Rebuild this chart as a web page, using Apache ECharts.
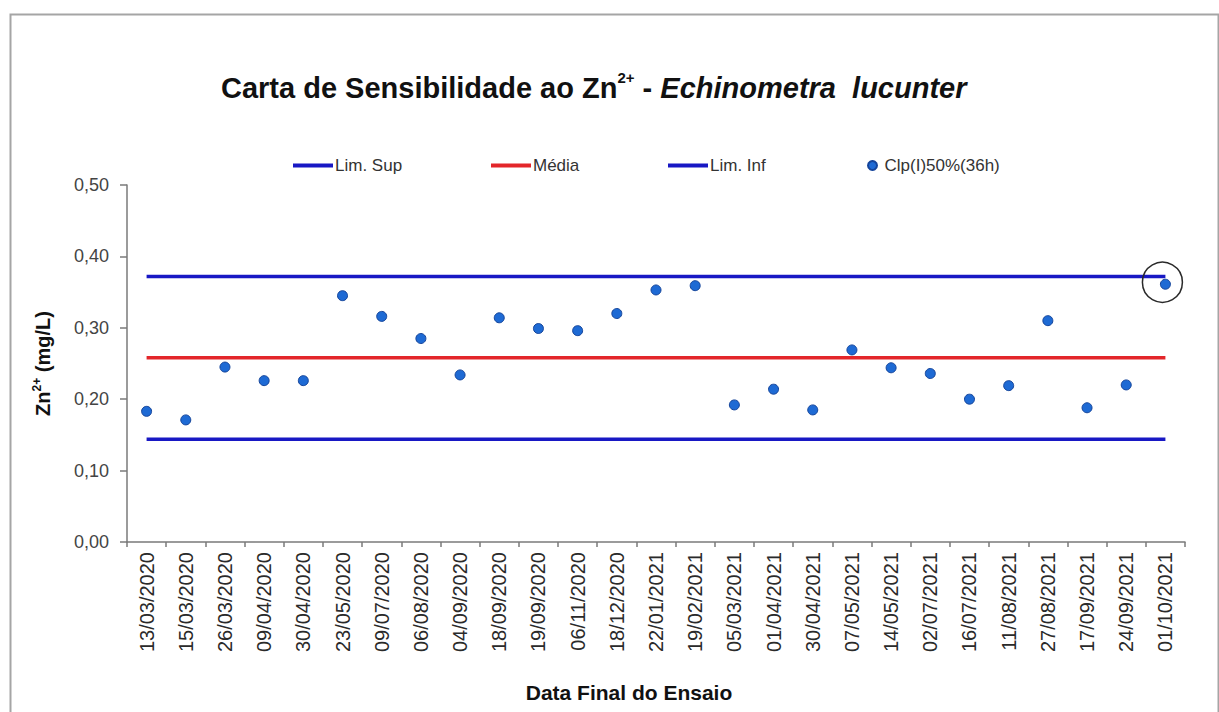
<!DOCTYPE html>
<html>
<head>
    <meta charset="utf-8">
    <title>Carta de Sensibilidade ao Zn</title>
    <script src="https://cdn.jsdelivr.net/npm/echarts@6/dist/echarts.min.js"></script>
    <style>
        html, body { margin: 0; padding: 0; background: #fff; }
        #main { width: 1219px; height: 712px; }
    </style>
</head>
<body>
    <div id="main"></div>
    <script>
        // datas do fim de cada ensaio (eixo x)
        var datas = ['13/03/2020', '15/03/2020', '26/03/2020', '09/04/2020', '30/04/2020', '23/05/2020',
            '09/07/2020', '06/08/2020', '04/09/2020', '18/09/2020', '19/09/2020', '06/11/2020', '18/12/2020',
            '22/01/2021', '19/02/2021', '05/03/2021', '01/04/2021', '30/04/2021', '07/05/2021', '14/05/2021',
            '02/07/2021', '16/07/2021', '11/08/2021', '27/08/2021', '17/09/2021', '24/09/2021', '01/10/2021'];

        // CI(I)50% (36h) em mg/L
        var ci50 = [0.183, 0.171, 0.245, 0.226, 0.226, 0.345, 0.316, 0.285, 0.234, 0.314, 0.299, 0.296, 0.320,
            0.353, 0.359, 0.192, 0.214, 0.185, 0.269, 0.244, 0.236, 0.200, 0.219, 0.310, 0.188, 0.220, 0.361];

        // limites da carta
        var limSup = 0.372;
        var media = 0.258;
        var limInf = 0.144;

        // ticks do eixo y
        var yMin = 0, yMax = 0.5, yStep = 0.1;

        var fonte = 'Liberation Sans';
        var azul = '#1818c4';
        var vermelho = '#e3262a';

        var linhaSup = datas.map(function () { return limSup; });
        var linhaMedia = datas.map(function () { return media; });
        var linhaInf = datas.map(function () { return limInf; });

        var myChart = echarts.init(document.getElementById('main'), null, { renderer: 'svg' });

        // uma legenda por item, para posicionar cada uma
        function legenda(nome, left, w, h, icone) {
            return {
                data: [{ name: nome, icon: icone }],
                left: left,
                top: 152,
                itemWidth: w,
                itemHeight: h,
                itemGap: 0,
                selectedMode: false,
                textStyle: { fontFamily: fonte, fontSize: 17, color: '#333', padding: [0, 0, 0, -3] }
            };
        }

        var option = {
            backgroundColor: '#fff',
            animation: false,
            title: {
                text: '{b|Carta de Sensibilidade ao Zn}{s|2+}{b| - }{i|Echinometra  lucunter}',
                left: 216,
                top: 65,
                textStyle: {
                    rich: {
                        b: { fontFamily: fonte, fontSize: 29, fontWeight: 'bold', color: '#111', lineHeight: 36 },
                        s: { fontFamily: fonte, fontSize: 15, color: '#111', verticalAlign: 'top', lineHeight: 24 },
                        i: { fontFamily: fonte, fontSize: 29, fontStyle: 'italic', color: '#111', lineHeight: 36 }
                    }
                }
            },
            legend: [
                legenda('Lim. Sup', 288, 40, 4, 'rect'),
                legenda('Média', 486, 40, 4, 'rect'),
                legenda('Lim. Inf', 663, 40, 4, 'rect'),
                legenda('Clp(I)50%(36h)', 862, 20, 9, 'circle')
            ],
            grid: {
                left: 127,
                right: 34,
                top: 185,
                bottom: 170,
                containLabel: false,
                outerBoundsMode: 'none'
            },
            xAxis: {
                type: 'category',
                data: datas,
                boundaryGap: true,
                name: 'Data Final do Ensaio',
                nameLocation: 'middle',
                nameGap: 140,
                nameTextStyle: { fontFamily: fonte, fontSize: 21, fontWeight: 'bold', color: '#111', padding: [0, 54, 0, 0] },
                axisLine: { show: true, lineStyle: { color: '#7a7a7a', width: 1.5 } },
                axisTick: { show: true, interval: 0, length: 5, lineStyle: { color: '#7a7a7a', width: 1.5 } },
                axisLabel: { interval: 0, rotate: 90, margin: 10, fontFamily: fonte, fontSize: 20, color: '#2a2a2a' },
                splitLine: { show: false }
            },
            yAxis: {
                type: 'value',
                min: yMin,
                max: yMax,
                interval: yStep,
                name: '{b|Zn}{s|2+}{b| (mg/L)}',
                nameLocation: 'middle',
                nameGap: 72,
                nameTextStyle: {
                    rich: {
                        b: { fontFamily: fonte, fontSize: 20, fontWeight: 'bold', color: '#111', lineHeight: 24 },
                        s: { fontFamily: fonte, fontSize: 12, fontWeight: 'bold', color: '#111', verticalAlign: 'top', lineHeight: 14 }
                    }
                },
                axisLine: { show: true, lineStyle: { color: '#7a7a7a', width: 1.5 } },
                axisTick: { show: true, length: 7, lineStyle: { color: '#7a7a7a', width: 1.5 } },
                axisLabel: {
                    margin: 18,
                    fontFamily: fonte,
                    fontSize: 18,
                    color: '#444',
                    formatter: function (v) { return v.toFixed(2).replace('.', ','); }
                },
                splitLine: { show: false }
            },
            series: [
                {
                    name: 'Lim. Sup', type: 'line', data: linhaSup, symbol: 'none',
                    lineStyle: { color: azul, width: 3.5 }, itemStyle: { color: azul }
                },
                {
                    name: 'Média', type: 'line', data: linhaMedia, symbol: 'none',
                    lineStyle: { color: vermelho, width: 3.5 }, itemStyle: { color: vermelho }
                },
                {
                    name: 'Lim. Inf', type: 'line', data: linhaInf, symbol: 'none',
                    lineStyle: { color: azul, width: 3.5 }, itemStyle: { color: azul }
                },
                {
                    name: 'Clp(I)50%(36h)', type: 'scatter', data: ci50, symbol: 'circle', symbolSize: 10,
                    itemStyle: { color: '#1e6ad4', borderColor: '#14449a', borderWidth: 1, opacity: 1 },
                    z: 5,
                    markPoint: {
                        symbol: 'circle',
                        symbolSize: 40,
                        symbolOffset: [-3, -2],
                        silent: true,
                        label: { show: false },
                        itemStyle: { color: 'transparent', borderColor: '#2a2a2a', borderWidth: 1.5 },
                        data: [{ coord: [datas[datas.length - 1], ci50[ci50.length - 1]] }]
                    }
                }
            ],
            graphic: [
                {
                    type: 'rect',
                    left: 8,
                    top: 12,
                    shape: { width: 1208, height: 720 },
                    style: { fill: 'none', stroke: '#a5a5a5', lineWidth: 2 },
                    silent: true
                }
            ]
        };

        myChart.setOption(option);
    </script>
</body>
</html>
